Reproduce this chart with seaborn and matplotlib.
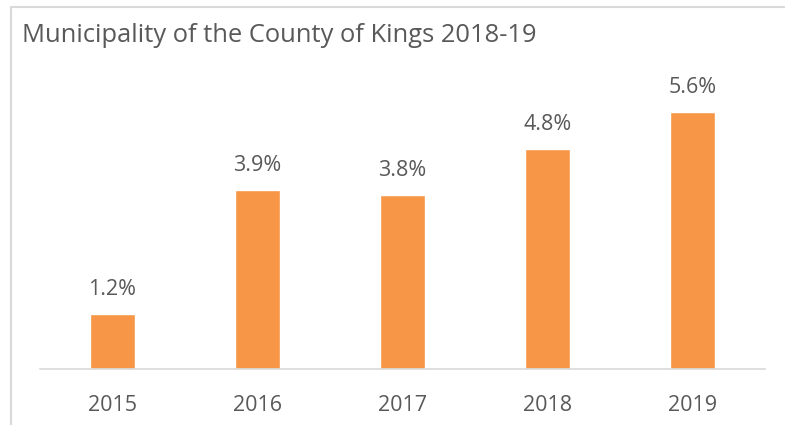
import matplotlib
matplotlib.use("Agg")
import matplotlib.pyplot as plt
import seaborn as sns
import pandas as pd
from matplotlib.lines import Line2D

years = ["2015", "2016", "2017", "2018", "2019"]
rates = [1.2, 3.9, 3.8, 4.8, 5.6]
title = "Municipality of the County of Kings 2018-19"

sns.set_style("white")
plt.rcParams["font.family"] = ["Open Sans", "DejaVu Sans"]

text_col = "#595959"
bar_col = "#F79646"
line_col = "#D9D9D9"

df = pd.DataFrame({"Year": years, "Rate": rates})

fig = plt.figure(figsize=(7.85, 4.25), dpi=100)
ax = fig.add_axes([40 / 785, 56 / 425, 725 / 785, 318.5 / 425])

sns.barplot(data=df, x="Year", y="Rate", color=bar_col, width=0.31,
            saturation=1, ax=ax)

ax.set_ylim(0, 6.94)
ax.set_xlim(-0.5, len(years) - 0.5)
ax.set_xlabel("")
ax.set_ylabel("")
ax.set_yticks([])
ax.tick_params(axis="x", length=0, labelsize=15.5, labelcolor=text_col, pad=19)
for s in ["top", "right", "left"]:
    ax.spines[s].set_visible(False)
ax.spines["bottom"].set_color(line_col)
ax.spines["bottom"].set_linewidth(1.2)

for i, v in enumerate(rates):
    ax.annotate(f"{v:.1f}%", (i, v), xytext=(0, 10), textcoords="offset points",
                ha="center", va="bottom", fontsize=15.5, color=text_col)

fig.text(22 / 785, 1 - 35 / 425, title, fontsize=18.4, color=text_col,
         ha="left", va="center")

# chart frame (left and top edges visible)
fig.add_artist(Line2D([11 / 785, 11 / 785], [0, 1 - 7 / 425],
                      transform=fig.transFigure, color=line_col, lw=1.5))
fig.add_artist(Line2D([11 / 785, 1], [1 - 7 / 425, 1 - 7 / 425],
                      transform=fig.transFigure, color=line_col, lw=1.5))

fig.savefig("out.png", dpi=100)
